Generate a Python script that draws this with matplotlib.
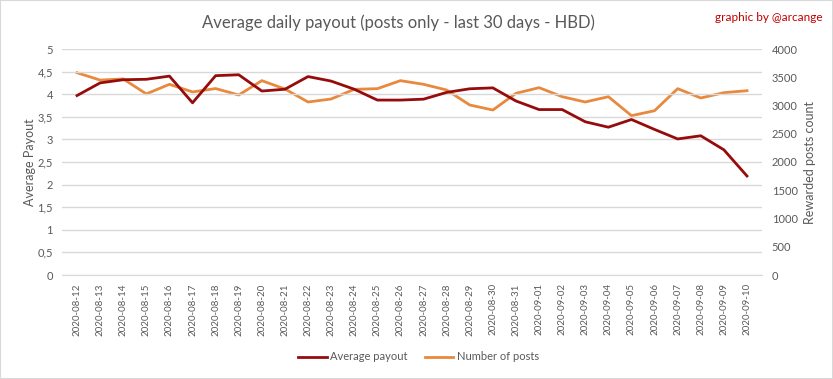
import matplotlib.pyplot as plt
from matplotlib.patches import Rectangle
from matplotlib.ticker import FuncFormatter, MultipleLocator

plt.rcParams["font.family"] = ["Lato", "DejaVu Sans"]

dates = [
    "2020-08-12", "2020-08-13", "2020-08-14", "2020-08-15", "2020-08-16",
    "2020-08-17", "2020-08-18", "2020-08-19", "2020-08-20", "2020-08-21",
    "2020-08-22", "2020-08-23", "2020-08-24", "2020-08-25", "2020-08-26",
    "2020-08-27", "2020-08-28", "2020-08-29", "2020-08-30", "2020-08-31",
    "2020-09-01", "2020-09-02", "2020-09-03", "2020-09-04", "2020-09-05",
    "2020-09-06", "2020-09-07", "2020-09-08", "2020-09-09", "2020-09-10",
]
avg_payout = [
    3.97, 4.25, 4.32, 4.33, 4.40, 3.81, 4.41, 4.43, 4.07, 4.11,
    4.39, 4.29, 4.11, 3.87, 3.87, 3.89, 4.04, 4.12, 4.14, 3.85,
    3.66, 3.66, 3.39, 3.27, 3.44, 3.22, 3.01, 3.08, 2.77, 2.19,
]
num_posts = [
    3580, 3450, 3470, 3205, 3375, 3240, 3300, 3186, 3440, 3292,
    3062, 3115, 3286, 3298, 3440, 3375, 3274, 3009, 2920, 3215,
    3316, 3156, 3062, 3156, 2820, 2908, 3298, 3133, 3227, 3262,
]

dark_red = "#960C0C"
orange = "#E8893D"
grid_col = "#D9D9D9"
text_col = "#595959"

fig = plt.figure(figsize=(8.33, 3.79), dpi=100)
ax = fig.add_axes([62 / 833, 1 - 275 / 379, 700 / 833, 226 / 379])
ax2 = ax.twinx()

x = list(range(len(dates)))
l1, = ax.plot(x, avg_payout, color=dark_red, lw=2, label="Average payout")
l2, = ax2.plot(x, num_posts, color=orange, lw=2, label="Number of posts")
ax.set_zorder(ax2.get_zorder() + 1)
ax.patch.set_visible(False)

ax.set_ylim(0, 5)
ax2.set_ylim(0, 4000)
ax.set_xlim(-0.65, len(dates) - 0.35)
ax.yaxis.set_major_locator(MultipleLocator(0.5))
ax2.yaxis.set_major_locator(MultipleLocator(500))
ax.yaxis.set_major_formatter(FuncFormatter(lambda v, p: f"{v:g}".replace(".", ",")))

ax.set_xticks(x)
ax.set_xticklabels(dates, rotation=90)
ax.grid(axis="y", color=grid_col, lw=1)
ax.set_axisbelow(True)

for a in (ax, ax2):
    for s in a.spines.values():
        s.set_visible(False)
    a.tick_params(length=0, colors=text_col, labelsize=8)
ax.spines["bottom"].set_visible(True)
ax.spines["bottom"].set_color(grid_col)
ax.tick_params(axis="y", pad=6.5)
ax2.tick_params(axis="y", pad=7)
ax.tick_params(axis="x", pad=6, labelsize=7)

ax.set_ylabel("Average Payout", color=text_col, fontsize=9)
ax.yaxis.set_label_coords(-0.037, 0.5)
ax2.set_ylabel("Rewarded posts count", color=text_col, fontsize=9)
ax2.yaxis.set_label_coords(1.060, 0.5)

fig.text(0.478, 0.94, "Average daily payout (posts only - last 30 days - HBD)",
         ha="center", va="center", fontsize=12, color=text_col)
fig.text(0.987, 0.955, "graphic by @arcange", ha="right", va="center",
         fontsize=8.5, color="#C00000")

fig.legend(handles=[l1, l2], loc="center", bbox_to_anchor=(0.5024, 1 - 357 / 379),
           ncol=2, frameon=False, fontsize=8, labelcolor=text_col,
           handlelength=2.6, handletextpad=0.3, columnspacing=1.5)

fig.patches.append(Rectangle((0, 0), 1, 1, transform=fig.transFigure,
                             fill=False, edgecolor=grid_col, lw=1.5))

fig.savefig("out.png", dpi=100)
